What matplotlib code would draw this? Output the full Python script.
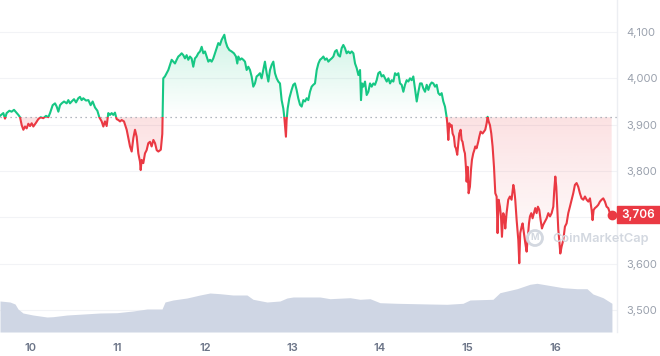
import numpy as np
import matplotlib
matplotlib.use("Agg")
import matplotlib.pyplot as plt
import matplotlib.transforms as mtransforms
from matplotlib.patches import Rectangle, Circle
from matplotlib.colors import to_rgb

plt.rcParams['font.family'] = ['Inter', 'DejaVu Sans']

# price series (day of month, USD)
days = [
    9.657, 9.676, 9.695, 9.714, 9.733, 9.764, 9.790, 9.817, 9.848, 9.867, 9.886, 9.905, 9.924, 9.943,
    9.962, 9.981, 10.000, 10.019, 10.038, 10.068, 10.095, 10.122, 10.152, 10.183, 10.209, 10.229,
    10.259, 10.286, 10.305, 10.324, 10.343, 10.362, 10.389, 10.419, 10.438, 10.457, 10.476, 10.503,
    10.526, 10.552, 10.571, 10.590, 10.609, 10.640, 10.667, 10.693, 10.716, 10.743, 10.770, 10.792,
    10.819, 10.838, 10.857, 10.876, 10.895, 10.914, 10.933, 10.952, 10.971, 10.990, 11.010, 11.029,
    11.048, 11.074, 11.105, 11.124, 11.143, 11.162, 11.181, 11.200, 11.219, 11.238, 11.257, 11.265,
    11.276, 11.295, 11.314, 11.333, 11.352, 11.371, 11.390, 11.410, 11.429, 11.448, 11.467, 11.495,
    11.512,
    11.523, 11.542, 11.562, 11.581, 11.600, 11.619, 11.638, 11.657, 11.676, 11.695, 11.714, 11.733,
    11.752, 11.771, 11.790, 11.809, 11.828, 11.847, 11.866, 11.885, 11.904, 11.923, 11.943, 11.962,
    11.981, 12.000, 12.019, 12.038, 12.057, 12.076, 12.095, 12.114, 12.133, 12.152, 12.171, 12.190,
    12.209, 12.221, 12.236, 12.255, 12.278, 12.304, 12.331, 12.354, 12.369, 12.381, 12.400, 12.419,
    12.438, 12.457, 12.476, 12.495, 12.514, 12.533, 12.552, 12.571, 12.590, 12.609, 12.628, 12.647,
    12.666, 12.685, 12.705, 12.724, 12.743, 12.762, 12.781, 12.800, 12.819, 12.838, 12.857, 12.876,
    12.895, 12.906, 12.925, 12.933, 12.945, 12.964, 12.990, 13.009, 13.028, 13.047, 13.066, 13.086,
    13.105, 13.124, 13.143, 13.162, 13.181, 13.200, 13.219, 13.238, 13.257,
    13.277, 13.296, 13.315, 13.334, 13.353, 13.372, 13.391, 13.410, 13.429, 13.448, 13.467, 13.486,
    13.505, 13.524, 13.543, 13.562, 13.581, 13.600, 13.619, 13.638, 13.658, 13.677, 13.696, 13.715,
    13.734, 13.753, 13.772, 13.783, 13.795, 13.810, 13.829, 13.848, 13.867, 13.886, 13.905, 13.924,
    13.943, 13.962, 13.981, 14.000, 14.019, 14.039, 14.058, 14.077, 14.096, 14.115, 14.134, 14.153,
    14.172, 14.191, 14.210, 14.229, 14.248, 14.267, 14.286, 14.305, 14.324, 14.343, 14.362, 14.381,
    14.400, 14.420, 14.439, 14.458, 14.477, 14.496, 14.515, 14.534, 14.553, 14.572, 14.591, 14.610,
    14.629, 14.648, 14.667, 14.686, 14.705, 14.724, 14.743, 14.762,
    14.769, 14.781, 14.792, 14.807, 14.819, 14.830, 14.845, 14.857, 14.868, 14.883, 14.895, 14.906,
    14.922, 14.933, 14.944, 14.960, 14.971, 14.982, 14.990, 15.002, 15.013, 15.028, 15.040, 15.051,
    15.066, 15.078, 15.089, 15.104, 15.123, 15.135, 15.150, 15.173, 15.188, 15.203, 15.219, 15.230,
    15.242, 15.257, 15.272, 15.287, 15.303, 15.318, 15.333, 15.344, 15.356, 15.371, 15.383, 15.394,
    15.409, 15.421, 15.432, 15.447, 15.466, 15.485, 15.504, 15.524, 15.535, 15.546, 15.562, 15.581,
    15.592, 15.603, 15.619, 15.630, 15.645, 15.661, 15.676, 15.687, 15.703, 15.714, 15.729, 15.744,
    15.760, 15.775, 15.790, 15.805, 15.821, 15.836, 15.851, 15.866, 15.885, 15.905, 15.924, 15.943,
    15.962, 15.981, 15.992, 16.004, 16.015, 16.026, 16.038, 16.049, 16.061, 16.076, 16.095, 16.114,
    16.133, 16.152, 16.171, 16.190, 16.209, 16.228, 16.247, 16.266, 16.285, 16.304, 16.324, 16.343,
    16.362, 16.381, 16.400, 16.419, 16.430, 16.442, 16.457, 16.476, 16.495, 16.514, 16.533, 16.552,
    16.571, 16.590, 16.609, 16.628, 16.648,
]
price = [
    3919, 3922, 3925, 3913, 3925, 3930, 3928, 3932, 3925, 3921, 3916, 3899, 3889, 3896,
    3892, 3902, 3897, 3903, 3896, 3904, 3912, 3916, 3914, 3919, 3916, 3925,
    3942, 3946, 3939, 3928, 3942, 3946, 3950, 3946, 3953, 3946, 3950, 3955,
    3948, 3957, 3960, 3953, 3957, 3952, 3953, 3942, 3950, 3937, 3930, 3916,
    3907, 3896, 3907, 3897, 3925, 3921, 3925, 3921, 3926, 3912, 3910, 3907,
    3910, 3907, 3889, 3871, 3853, 3842, 3871, 3889, 3874, 3838, 3820, 3802,
    3824, 3817, 3838, 3845, 3860, 3863, 3853, 3867, 3860, 3845, 3842, 3846,
    3880,
    4000, 4004, 4011, 4018, 4029, 4040, 4036, 4032, 4040, 4047, 4050, 4054,
    4050, 4043, 4050, 4040, 4047, 4043, 4025, 4043, 4047, 4054, 4058, 4068,
    4054, 4058, 4047, 4036, 4040, 4036, 4043, 4054, 4065, 4076, 4072, 4083,
    4090, 4094, 4079, 4068, 4061, 4058, 4054, 4047, 4032, 4047, 4040, 4043,
    4040, 4036, 4018, 4025, 4018, 4004, 3982, 3989, 4004, 4007, 4011, 4000,
    4018, 4036, 4011, 3993, 4018, 4029, 4036, 4011, 4000, 3993, 3989, 3953,
    3935, 3917, 3874, 3910, 3935, 3957, 3975, 3986, 3989, 3975, 3957, 3943,
    3939, 3953, 3950, 3957, 3953, 3971, 3982, 3986, 3989,
    4018, 4032, 4040, 4043, 4047, 4040, 4043, 4036, 4040, 4043, 4047, 4058,
    4061, 4050, 4047, 4065, 4072, 4065, 4054, 4058, 4054, 4058, 4054, 4032,
    4022, 4007, 4018, 3953, 3989, 3982, 3993, 3964, 3971, 3989, 3982, 3989,
    3986, 3996, 4011, 4014, 4004, 4007, 4000, 3993, 4000, 3989, 3996, 3993,
    4011, 4007, 4011, 3989, 3986, 3971, 3986, 3996, 3993, 4000, 3996, 4004,
    3978, 3950, 3971, 3989, 3989, 3978, 3971, 3986, 3975, 3986, 3991, 3989,
    3982, 3986, 3968, 3964, 3968, 3950, 3939, 3916,
    3903, 3867, 3903, 3896, 3899, 3881, 3874, 3853, 3849, 3835, 3860, 3881,
    3889, 3867, 3863, 3845, 3838, 3809, 3777, 3809, 3752, 3766, 3802, 3824,
    3838, 3845, 3853, 3849, 3863, 3874, 3885, 3881, 3885, 3889, 3903, 3917,
    3907, 3899, 3881, 3853, 3809, 3752, 3745, 3666, 3738, 3723, 3702, 3658,
    3709, 3702, 3676, 3709, 3738, 3745, 3738, 3770, 3759, 3738, 3694, 3651,
    3601, 3666, 3680, 3687, 3666, 3644, 3626, 3651, 3687, 3702, 3709, 3698,
    3709, 3720, 3709, 3723, 3716, 3694, 3676, 3684, 3691, 3698, 3709, 3702,
    3709, 3723, 3759, 3788, 3766, 3723, 3673, 3651, 3622, 3637, 3651, 3680,
    3687, 3709, 3723, 3738, 3752, 3770, 3774, 3766, 3752, 3741, 3738, 3745,
    3738, 3734, 3741, 3716, 3694, 3716, 3720, 3723, 3727, 3734, 3738, 3741,
    3734, 3723, 3720, 3709, 3706,
]

# traded volume (billions USD)
vol_days = [9.657, 9.771, 9.829, 9.863, 9.920, 10.034, 10.194, 10.263, 10.423, 10.800, 10.994,
            11.177, 11.337, 11.509, 11.543, 11.634, 11.794, 11.943, 12.057, 12.171, 12.320, 12.480,
            12.549, 12.709, 12.857, 12.937, 13.006, 13.314, 13.429, 13.657, 13.771, 13.886, 14.000,
            14.194, 14.571, 14.766, 14.949, 15.029, 15.291, 15.371, 15.566, 15.714, 15.794, 15.909,
            16.091, 16.251, 16.366, 16.434, 16.549, 16.651]
volume = [15.5, 15.0, 14.0, 11.5, 9.5, 8.5, 7.5, 7.65, 8.5, 9.5, 9.65,
          10.5, 11.5, 11.5, 15.0, 16.0, 17.0, 18.5, 19.5, 19.15, 18.5, 18.5,
          16.35, 15.0, 15.5, 17.0, 17.5, 17.5, 16.65, 17.15, 16.35, 16.65, 14.65,
          14.35, 14.0, 13.85, 14.35, 16.0, 16.35, 19.65, 21.65, 23.85, 24.35, 23.5,
          22.15, 21.65, 21.65, 19.0, 17.15, 14.35]

baseline = 3916
day_ticks = [10, 11, 12, 13, 14, 15, 16]
price_ticks = [3500, 3600, 3700, 3800, 3900, 4000, 4100]

green = '#16c784'
red = '#ea3943'


def gradient_fill(ax, x, lower, upper, color, ylo, yhi, a_lo, a_hi):
    poly = ax.fill_between(x, lower, upper, color='none', lw=0)
    grad = np.zeros((200, 1, 4))
    grad[..., :3] = to_rgb(color)
    grad[:, 0, 3] = np.linspace(a_lo, a_hi, 200)
    im = ax.imshow(grad, aspect='auto', origin='lower', zorder=1,
                   extent=[x.min(), x.max(), ylo, yhi], interpolation='bilinear')
    im.set_clip_path(poly.get_paths()[0], transform=ax.transData)


fig = plt.figure(figsize=(6.6, 3.56), dpi=100)
ax = fig.add_axes([0, 24 / 356, 617 / 660, 332 / 356])
axv = ax.twinx()

x = np.array(days)
y = np.array(price)

# gradient areas
gradient_fill(ax, x, baseline, np.maximum(y, baseline), green, baseline, y.max(), 0.0, 0.2)
gradient_fill(ax, x, np.minimum(y, baseline), baseline, red, y.min(), baseline, 0.0, 0.15)

# price line, green above the open price, red below
up_line, = ax.plot(x, y, color=green, lw=1.5, zorder=3, solid_joinstyle='round')
dn_line, = ax.plot(x, y, color=red, lw=1.5, zorder=3, solid_joinstyle='round')
up_line.set_clip_path(Rectangle((x[0] - 1, baseline), 10, 1000, transform=ax.transData))
dn_line.set_clip_path(Rectangle((x[0] - 1, baseline - 1000), 10, 1000, transform=ax.transData))

ax.axhline(baseline, color='#9aa1ac', lw=0.9, ls=(0, (1, 3)), zorder=2)
ax.plot(x[-1], y[-1], 'o', color=red, ms=6, zorder=5, clip_on=False)

ax.set_xlim(9.657, 16.709)
ax.set_ylim(3452.6, 4169.0)

# volume
axv.fill_between(vol_days, 0, volume, color='#cfd6e4', lw=0)
axv.set_ylim(0, 166)
axv.set_yticks([])
for s in axv.spines.values():
    s.set_visible(False)

# axes styling; the 3,700 label sits under the current price tag
ax.yaxis.tick_right()
ax.set_yticks(price_ticks)
ax.set_yticklabels(["" if v == 3700 else f"{v:,}" for v in price_ticks])
ax.set_xticks(day_ticks)
ax.set_xticklabels([str(d) for d in day_ticks])
ax.tick_params(axis='y', length=0, pad=7, labelsize=8, labelcolor='#9aa1ad')
ax.tick_params(axis='x', length=0, pad=8, labelsize=8, labelcolor='#6b7487')
for lab in ax.get_xticklabels():
    lab.set_fontweight('semibold')
ax.yaxis.grid(True, color='#f2f3f6', lw=0.8)
ax.set_axisbelow(True)
for name, s in ax.spines.items():
    s.set_visible(name == 'right')
ax.spines['right'].set_color('#eceef2')
ax.spines['right'].set_linewidth(1)

# current price tag
trans = mtransforms.blended_transform_factory(ax.transAxes, ax.transData)
ax.add_patch(Rectangle((1.0, y[-1] - 17.5), 43 / 617, 35, transform=trans,
                       color=red, clip_on=False, zorder=6))
ax.text(1.0 + 21.5 / 617, y[-1], f"{y[-1]:,}", transform=trans, color='white',
        fontsize=8.5, fontweight='semibold', ha='center', va='center', zorder=7)

# watermark
fig.add_artist(Circle((535, 356 - 238), 7.5, transform=mtransforms.IdentityTransform(),
                      fill=False, ec='#d3d8e0', lw=2))
fig.text(535 / 660, 1 - 238 / 356, 'M', fontsize=6.5, color='#d3d8e0',
         fontweight='bold', ha='center', va='center')
fig.text(552 / 660, 1 - 239 / 356, 'CoinMarketCap', fontsize=9.2, color='#d3d8e0',
         fontweight='semibold', ha='left', va='center')

fig.savefig('out.png', dpi=100)
